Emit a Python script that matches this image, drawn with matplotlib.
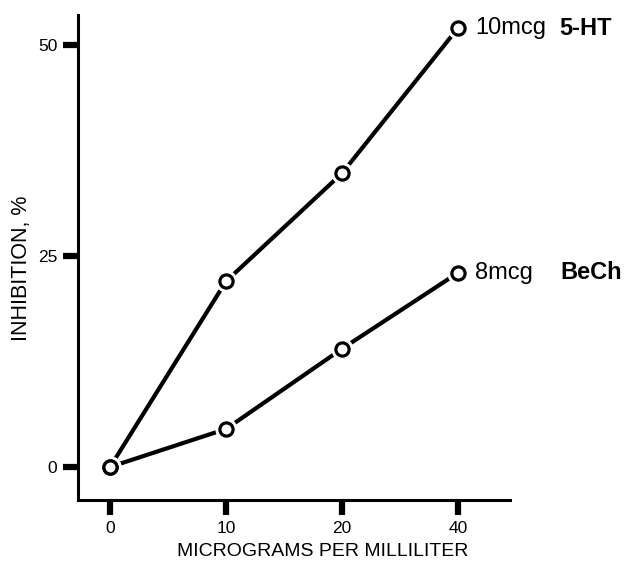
import matplotlib.pyplot as plt

# dose levels (equally spaced categories on the x axis)
doses = ["0", "10", "20", "40"]
inhib_5ht = [0, 22, 34.8, 52]
inhib_bech = [0, 4.5, 14, 23]
label_5ht = ("10mcg", "5-HT")
label_bech = ("8mcg", "BeCh")
yticks = [0, 25, 50]

plt.rcParams["font.family"] = ["Liberation Sans", "DejaVu Sans"]

fig = plt.figure(figsize=(6.25, 5.61), dpi=100)
ax = fig.add_axes([0.125, 0.109, 0.691, 0.864])

x = list(range(len(doses)))
for ys in (inhib_5ht, inhib_bech):
    ax.plot(x, ys, color="black", lw=3.0, solid_capstyle="butt", zorder=2)
    # white halo so the line stops short of the circle
    ax.plot(x, ys, "o", ms=15, mfc="white", mec="white", zorder=3)
    ax.plot(x, ys, "o", ms=9.5, mfc="white", mec="black", mew=2.3, zorder=4)

def side_label(y, parts, dx_bold):
    ax.annotate(parts[0], (x[-1], y), xytext=(17, 0), textcoords="offset pixels",
                va="center", ha="left", fontsize=17, annotation_clip=False)
    ax.annotate(parts[1], (x[-1], y), xytext=(dx_bold, 0), textcoords="offset pixels",
                va="center", ha="left", fontsize=17, fontweight="bold",
                annotation_clip=False)

side_label(inhib_5ht[-1], label_5ht, 101)
side_label(inhib_bech[-1], label_bech, 103)

ax.set_xlim(-0.276, 3.45)
ax.set_ylim(-3.9, 53.55)
ax.set_xticks(x)
ax.set_xticklabels(doses)
ax.set_yticks(yticks)
ax.set_yticklabels([str(v) for v in yticks])

for side in ("top", "right"):
    ax.spines[side].set_visible(False)
for side in ("left", "bottom"):
    ax.spines[side].set_linewidth(2.2)

ax.tick_params(axis="both", direction="out", length=11, width=4.5, labelsize=12.5, pad=4)

fig.text(323 / 625, 1 - 552 / 561, "MICROGRAMS PER MILLILITER", fontsize=14,
         ha="center", va="center")
fig.text(22 / 625, 1 - 268 / 561, "INHIBITION, %", fontsize=15.5, rotation=90,
         ha="center", va="center")

fig.savefig("out.png", dpi=100)
